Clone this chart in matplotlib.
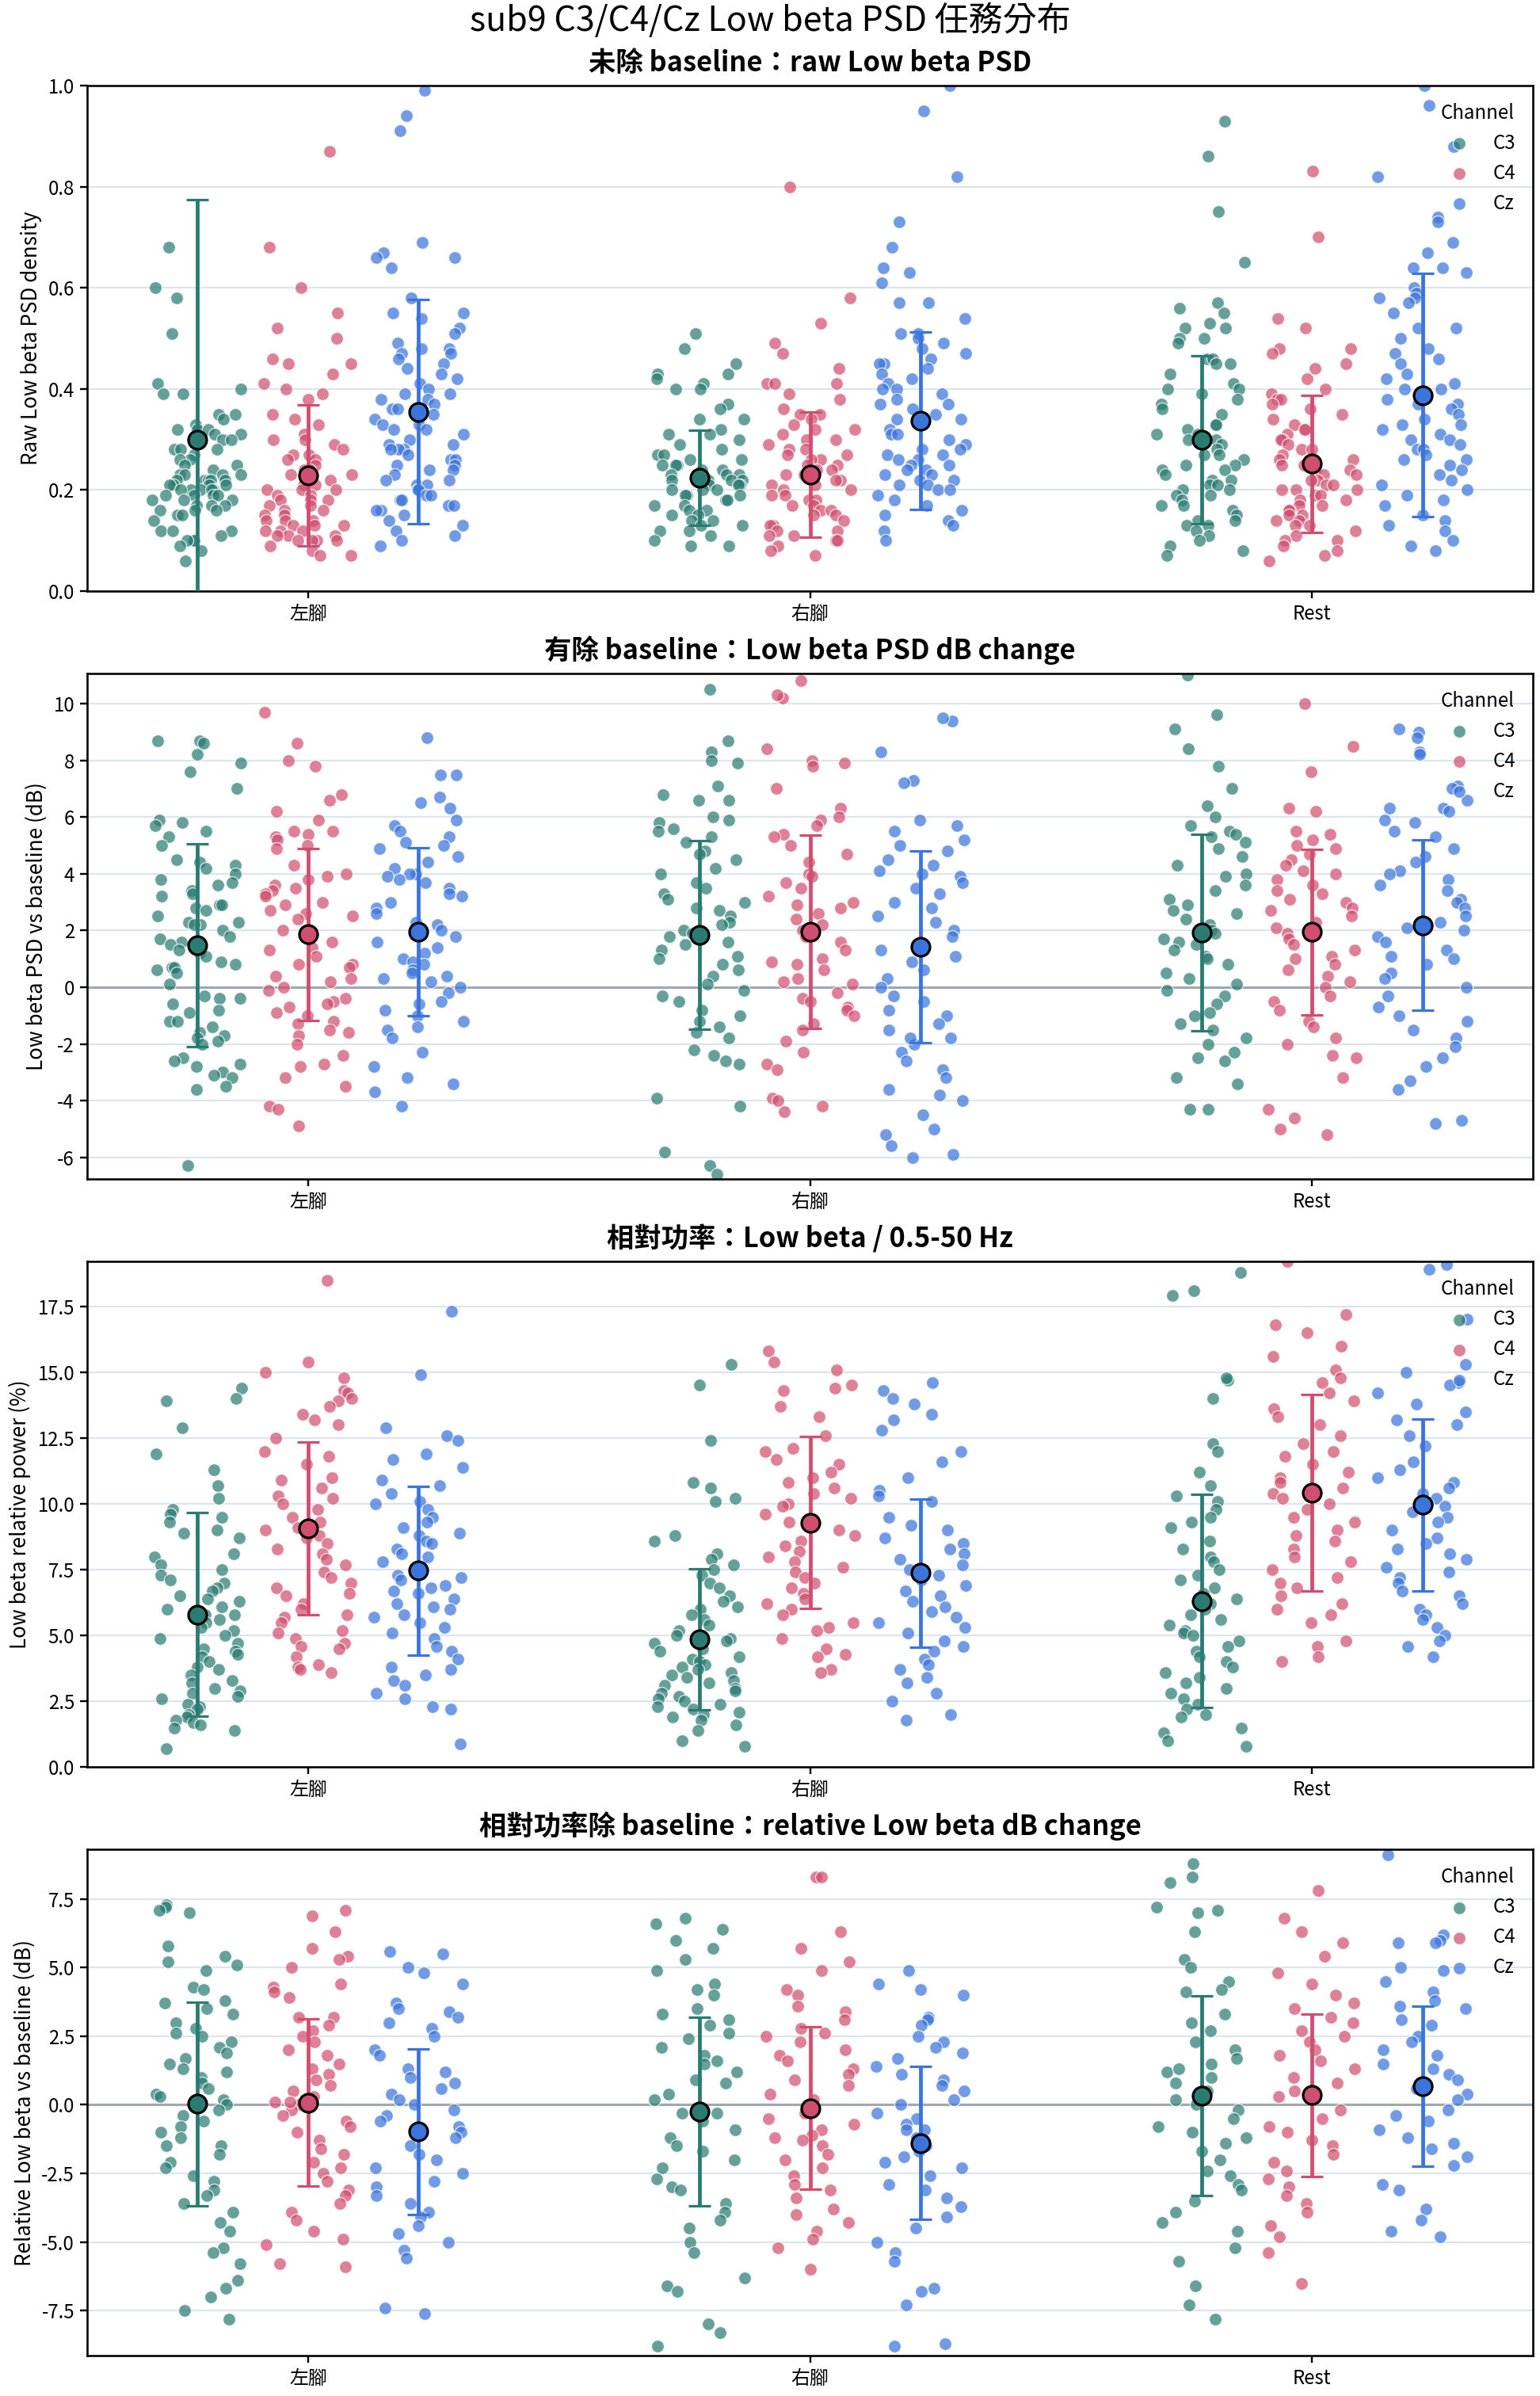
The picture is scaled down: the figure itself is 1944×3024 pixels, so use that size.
import numpy as np
import matplotlib
matplotlib.use("Agg")
import matplotlib.pyplot as plt

plt.rcParams['font.family'] = ['Noto Sans CJK TC', 'DejaVu Sans']
plt.rcParams['axes.unicode_minus'] = False

conditions = ['左腳', '右腳', 'Rest']
channels = ['C3', 'C4', 'Cz']
colors = {'C3': '#2a7b72', 'C4': '#d04f70', 'Cz': '#3b75db'}

# --- panel 1: raw PSD, values x0.01 ---
raw_l_c3 = [68,60,58,51,41,40,39,39,35,35,34,33,32,32,32,31,31,30,30,28,28,28,27,26,26,25,25,24,23,23,23,23,22,22,22,22,22,21,21,21,21,20,20,20,20,20,19,19,19,19,18,18,18,17,17,17,16,16,16,15,15,14,12,12,12,11,10,10,10,9,8,6]
raw_l_c4 = [87,68,60,55,52,50,46,45,45,43,41,40,39,38,35,34,33,31,30,30,29,28,27,27,26,26,25,24,24,23,23,22,21,21,20,20,20,19,19,18,18,18,17,17,16,16,15,15,14,14,14,13,13,13,12,12,12,11,11,11,10,10,10,10,9,8,7,7]
raw_l_cz = [99,94,91,69,67,66,66,64,58,55,55,54,52,51,49,48,48,47,47,46,45,44,43,42,41,40,39,39,38,38,37,36,36,35,34,33,33,32,32,31,30,29,29,28,28,28,27,26,26,25,25,24,24,23,22,22,21,21,20,20,19,19,18,18,17,17,16,16,15,14,13,12,11,10,9]
raw_r_c3 = [51,48,45,43,43,42,41,40,40,37,36,34,34,32,31,31,30,29,28,27,27,26,26,25,25,25,24,24,23,23,23,22,22,22,22,21,21,21,20,20,20,19,19,19,18,18,17,17,16,16,15,15,14,14,13,13,12,12,11,10,9,9]
raw_r_c4 = [80,58,53,49,47,44,41,41,41,39,38,36,35,35,34,33,32,32,31,30,30,29,28,28,27,27,26,26,25,25,24,24,23,23,22,22,21,21,20,20,19,19,18,18,17,17,16,16,15,15,14,13,13,12,12,11,11,10,10,9,8,7]
raw_r_cz = [100,95,82,73,68,64,63,61,57,57,54,51,51,50,49,48,47,46,45,45,44,43,42,41,40,40,39,38,37,37,36,35,34,34,33,32,31,31,30,29,28,28,27,27,26,26,25,25,24,24,23,23,22,22,21,21,20,20,19,18,17,16,15,14,13,12,10]
raw_s_c3 = [93,86,75,65,57,56,55,53,52,52,50,50,49,46,46,45,45,43,41,40,40,39,38,37,36,35,33,33,32,31,31,30,30,29,28,27,27,26,25,25,24,24,23,22,22,21,21,20,20,19,19,18,17,17,16,15,14,14,13,13,12,11,10,9,8,7]
raw_s_c4 = [83,70,54,52,48,48,47,45,44,42,40,39,38,38,37,36,35,34,33,32,32,31,30,30,29,28,28,27,26,26,25,25,24,24,23,23,22,22,21,21,20,20,20,19,19,18,18,17,17,16,16,15,15,14,14,13,13,12,11,10,10,9,8,7,6]
raw_s_cz = [100,96,88,82,74,73,69,67,64,64,63,60,59,58,58,57,55,52,52,50,48,47,46,45,43,42,41,40,40,39,38,37,37,36,35,34,33,33,32,31,30,30,29,28,28,27,26,26,25,24,23,22,21,20,19,18,17,15,14,13,12,10,9,8]
raw_mean = [[0.299, 0.229, 0.355], [0.225, 0.231, 0.337], [0.299, 0.252, 0.388]]
raw_sd = [[0.475, 0.139, 0.222], [0.094, 0.124, 0.175], [0.166, 0.136, 0.241]]

# --- panel 2: PSD dB change, values x0.1 ---
db_l_c3 = [87,86,87,82,79,76,70,59,58,57,55,53,50,45,44,43,42,40,38,37,36,34,33,32,29,29,28,27,25,23,23,22,22,20,18,17,16,15,13,12,11,9,8,7,7,6,5,1,-3,-4,-4,-6,-8,-9,-12,-12,-14,-16,-17,-18,-19,-20,-25,-26,-27,-28,-30,-31,-32,-35,-36,-63]
db_l_c4 = [97,86,80,78,68,66,62,59,55,55,54,53,52,50,49,43,40,39,38,36,35,34,33,32,30,29,27,26,25,24,20,20,16,14,13,11,8,8,7,4,3,2,0,-1,-4,-5,-6,-7,-9,-10,-12,-13,-15,-16,-17,-20,-24,-27,-28,-32,-35,-42,-43,-49]
db_l_cz = [88,75,75,67,65,63,59,57,55,53,51,50,49,46,44,42,40,40,39,38,37,35,33,32,30,28,26,23,22,20,18,16,14,12,10,9,8,6,5,4,3,2,0,-2,-5,-6,-8,-10,-12,-14,-15,-18,-23,-28,-32,-34,-37,-42]
db_r_c3 = [105,87,83,80,79,71,68,66,66,60,59,58,56,55,53,51,48,47,45,42,40,37,35,33,31,30,28,27,25,23,22,20,19,18,16,15,13,11,10,8,6,4,1,-1,-3,-5,-8,-10,-12,-14,-16,-18,-22,-24,-26,-27,-39,-42,-58,-63,-66]
db_r_c4 = [108,102,103,84,80,79,78,70,63,60,59,57,54,53,50,47,44,40,39,37,35,32,30,29,28,26,24,22,20,18,16,13,10,9,8,6,3,2,1,-2,-4,-5,-7,-8,-10,-13,-15,-19,-23,-27,-29,-39,-40,-42,-44]
db_r_cz = [94,95,83,73,72,59,57,55,52,50,48,45,43,41,40,39,37,35,33,30,28,25,23,20,18,15,13,11,9,6,3,0,-3,-5,-8,-10,-13,-15,-18,-20,-23,-26,-29,-32,-36,-38,-40,-45,-50,-52,-56,-59,-60,-18]
db_s_c3 = [110,96,91,84,78,70,64,60,57,55,54,53,51,49,46,43,40,39,36,34,31,29,27,26,24,22,20,19,17,16,15,13,11,10,8,5,3,1,-1,-3,-6,-9,-10,-13,-15,-18,-20,-23,-25,-26,-32,-34,-43,-43]
db_s_c4 = [100,85,76,63,62,55,54,52,50,49,47,45,43,41,40,38,36,34,33,31,30,28,27,25,23,21,20,19,17,15,13,11,10,8,6,4,2,0,-3,-5,-8,-12,-14,-18,-20,-24,-25,-32,-43,-46,-50,-52]
db_s_cz = [91,90,88,83,82,71,70,66,63,63,62,59,58,55,53,49,46,44,41,40,38,36,34,31,30,28,25,23,21,20,18,16,13,11,10,8,5,3,0,-3,-7,-10,-12,-15,-18,-21,-25,-28,-36,-33,-47,-48]
db_mean = [[1.48, 1.86, 1.95], [1.85, 1.95, 1.42], [1.93, 1.95, 2.19]]
db_sd = [[3.57, 3.03, 2.96], [3.33, 3.41, 3.38], [3.46, 2.92, 3.00]]

# --- panel 3: relative power %, values x0.1 ---
pct_l_c3 = [144,140,139,129,119,113,107,102,98,96,95,93,90,89,87,81,80,77,75,73,71,70,68,67,65,64,63,61,60,58,58,56,55,53,52,50,49,47,45,44,43,42,40,38,37,35,33,32,30,29,28,27,26,24,23,22,20,19,18,17,16,15,14,7]
pct_l_c4 = [185,154,150,148,143,142,140,139,137,134,132,130,125,120,118,115,110,109,106,103,102,100,98,95,93,91,90,88,87,85,83,81,79,77,74,72,70,68,66,65,62,60,58,57,55,52,51,49,47,46,45,42,39,38,37,36]
pct_l_cz = [173,149,129,126,124,119,117,114,109,107,104,101,100,98,95,93,91,89,88,86,85,83,81,80,78,76,73,72,71,69,68,67,66,64,62,61,60,58,57,55,53,51,49,46,44,41,38,37,35,33,31,28,26,23,22,9]
pct_r_c3 = [153,145,124,108,106,102,101,88,86,81,79,77,75,73,70,68,65,63,61,60,58,56,54,52,50,49,48,47,45,44,42,41,40,39,38,37,36,35,34,33,32,31,30,29,28,27,26,25,24,23,22,21,20,19,18,16,14,10,8]
pct_r_c4 = [158,154,151,145,144,143,137,133,126,121,120,117,115,112,110,108,106,104,102,100,99,96,93,90,88,86,84,82,80,78,76,74,72,70,68,66,64,62,60,58,55,53,52,49,45,43,42,37,36]
pct_r_cz = [146,143,140,138,134,132,128,120,116,110,105,103,101,95,92,90,87,85,83,81,79,77,75,73,71,69,67,65,63,61,59,57,55,53,51,48,46,44,41,39,37,34,32,28,25,20,18]
pct_s_c3 = [188,181,179,147,148,140,123,120,112,107,103,101,98,95,93,91,86,83,80,78,75,73,71,68,66,64,62,60,58,56,54,52,51,50,48,46,44,42,40,38,36,34,32,30,28,26,24,22,20,19,15,13,10,8]
pct_s_c4 = [192,172,168,165,160,156,151,148,146,142,139,136,133,130,126,123,120,118,115,112,110,108,106,104,102,100,98,95,93,90,88,86,83,80,78,75,72,70,68,65,62,60,58,55,48,46,42,40]
pct_s_cz = [191,189,170,153,150,146,145,142,138,135,132,130,126,122,116,113,110,108,106,104,102,100,99,97,95,93,90,87,85,83,81,79,76,74,72,70,67,65,62,60,58,56,53,50,48,46,42]
pct_mean = [[5.80, 9.08, 7.46], [4.85, 9.29, 7.37], [6.31, 10.42, 9.96]]
pct_sd = [[3.87, 3.28, 3.21], [2.67, 3.26, 2.80], [4.05, 3.72, 3.26]]

# --- panel 4: relative dB change, values x0.1 ---
rdb_l_c3 = [73,72,71,70,58,54,52,51,49,43,42,38,37,35,33,30,28,26,25,23,21,19,17,15,13,12,10,8,6,4,2,0,-2,-4,-6,-8,-10,-12,-15,-18,-21,-23,-26,-28,-31,-33,-36,-39,-43,-46,-52,-54,-58,-64,-67,-70,-75,-78,3,-15]
rdb_l_c4 = [71,69,63,57,54,53,50,44,43,41,39,32,32,29,27,25,23,20,18,15,13,11,9,7,5,3,1,0,-2,-4,-6,-8,-10,-13,-16,-18,-21,-23,-25,-28,-31,-33,-36,-39,-42,-46,-49,-51,-58,-59,1]
rdb_l_cz = [56,55,50,48,44,37,35,34,32,30,28,25,20,18,13,12,10,8,6,4,2,0,-2,-4,-6,-8,-10,-12,-15,-18,-20,-23,-25,-28,-30,-33,-36,-39,-41,-44,-47,-50,-53,-56,-74,-76]
rdb_r_c3 = [68,66,64,60,57,53,49,44,42,40,35,33,31,29,26,24,21,18,16,15,12,9,8,4,2,-3,-3,-6,-9,-12,-15,-17,-20,-23,-27,-30,-31,-36,-39,-42,-45,-50,-54,-63,-66,-68,-80,-83,-88]
rdb_r_c4 = [83,83,63,57,52,49,42,40,36,34,31,28,26,25,23,20,18,16,13,11,9,7,4,2,-3,-5,-7,-9,-11,-13,-15,-18,-20,-23,-26,-29,-31,-34,-38,-40,-43,-46,-49,-52,-60,-12]
rdb_r_cz = [49,44,42,40,32,31,29,25,23,21,19,17,14,11,9,7,5,2,0,-3,-5,-7,-9,-12,-15,-17,-19,-21,-23,-26,-29,-31,-34,-37,-41,-45,-50,-54,-57,-67,-68,-73,-87,-88,-9]
rdb_s_c3 = [88,83,81,72,71,70,63,53,50,45,42,41,33,30,27,23,20,17,15,12,10,8,5,2,0,-2,-5,-8,-10,-14,-17,-20,-24,-26,-29,-31,-35,-39,-43,-46,-52,-57,-66,-73,-78,13,-12]
rdb_s_c4 = [78,68,63,59,54,48,44,40,37,35,32,30,27,25,23,20,18,16,13,10,8,5,3,-2,-5,-8,-10,-13,-15,-18,-21,-24,-27,-30,-33,-36,-39,-44,-48,-54,-65]
rdb_s_cz = [91,62,60,59,59,50,49,45,41,38,36,35,31,29,25,23,20,18,15,13,11,9,6,4,2,-2,-4,-6,-9,-12,-14,-16,-19,-22,-29,-31,-38,-42,-46,-48]
rdb_mean = [[0.03, 0.08, -0.98], [-0.24, -0.12, -1.39], [0.33, 0.35, 0.68]]
rdb_sd = [[3.72, 3.05, 3.02], [3.44, 2.95, 2.79], [3.64, 2.97, 2.92]]

panels = [
    dict(title='未除 baseline：raw Low beta PSD', ylabel='Raw Low beta PSD density', scale=0.01,
         pts=[[raw_l_c3, raw_l_c4, raw_l_cz], [raw_r_c3, raw_r_c4, raw_r_cz], [raw_s_c3, raw_s_c4, raw_s_cz]],
         mean=raw_mean, sd=raw_sd, ylim=(0, 1.0), yticks=np.arange(0, 1.01, 0.2), fmt='{:.1f}', zero=False),
    dict(title='有除 baseline：Low beta PSD dB change', ylabel='Low beta PSD vs baseline (dB)', scale=0.1,
         pts=[[db_l_c3, db_l_c4, db_l_cz], [db_r_c3, db_r_c4, db_r_cz], [db_s_c3, db_s_c4, db_s_cz]],
         mean=db_mean, sd=db_sd, ylim=(-6.77, 11.06), yticks=np.arange(-6, 11, 2), fmt='{:.0f}', zero=True),
    dict(title='相對功率：Low beta / 0.5-50 Hz', ylabel='Low beta relative power (%)', scale=0.1,
         pts=[[pct_l_c3, pct_l_c4, pct_l_cz], [pct_r_c3, pct_r_c4, pct_r_cz], [pct_s_c3, pct_s_c4, pct_s_cz]],
         mean=pct_mean, sd=pct_sd, ylim=(0, 19.2), yticks=np.arange(0, 17.6, 2.5), fmt='{:.1f}', zero=False),
    dict(title='相對功率除 baseline：relative Low beta dB change', ylabel='Relative Low beta vs baseline (dB)', scale=0.1,
         pts=[[rdb_l_c3, rdb_l_c4, rdb_l_cz], [rdb_r_c3, rdb_r_c4, rdb_r_cz], [rdb_s_c3, rdb_s_c4, rdb_s_cz]],
         mean=rdb_mean, sd=rdb_sd, ylim=(-9.13, 9.30), yticks=np.arange(-7.5, 7.6, 2.5), fmt='{:.1f}', zero=True),
]

offsets = [-0.22, 0.0, 0.22]
jit_w = 0.09


def spread(n, k):
    # deterministic hash-style offsets in [-1, 1], only used to spread dots sideways
    i = np.arange(n) + 1.0
    h = np.sin(i * 78.233 + k * 12.9898) * 43758.5453
    return (h - np.floor(h)) * 2 - 1


fig, axes = plt.subplots(4, 1, figsize=(13.5, 21), dpi=144)
fig.subplots_adjust(left=0.0566, right=0.9954, bottom=0.017, top=0.9643, hspace=0.163)

for pi, (ax, p) in enumerate(zip(axes, panels)):
    for ci in range(3):
        for hi, ch in enumerate(channels):
            vals = np.array(p['pts'][ci][hi]) * p['scale']
            jit = spread(len(vals), pi * 9 + ci * 3 + hi) * jit_w
            ax.scatter(ci + offsets[hi] + jit, vals, s=64, color=colors[ch], alpha=0.72,
                       edgecolors='white', linewidths=0.7, zorder=2,
                       label=ch if ci == 0 else None)
            ax.errorbar(ci + offsets[hi], p['mean'][ci][hi], yerr=p['sd'][ci][hi], fmt='o',
                        color=colors[ch], mec='black', mew=1.6, ms=11.5, elinewidth=2.4,
                        capsize=7, capthick=2.2, zorder=4)
    if p['zero']:
        ax.axhline(0, color='#a0a9b1', lw=1.6, zorder=1)
    ax.set_xlim(-0.44, 2.44)
    ax.set_ylim(*p['ylim'])
    ax.set_xticks(range(3))
    ax.set_xticklabels(conditions, fontsize=12)
    ax.set_yticks(p['yticks'])
    ax.set_yticklabels([p['fmt'].format(t) for t in p['yticks']], fontsize=12)
    ax.yaxis.grid(True, color='#dde4ec', lw=1.1)
    ax.set_axisbelow(True)
    ax.tick_params(length=4.5, width=1.2)
    for s in ax.spines.values():
        s.set_linewidth(1.3)
        s.set_color('black')
    ax.set_ylabel(p['ylabel'], fontsize=13)
    ax.set_title(p['title'], fontsize=17.2, fontweight='bold', pad=9)
    ax.legend(title='Channel', loc='upper right', frameon=False, fontsize=12, title_fontsize=12)

fig.suptitle('sub9 C3/C4/Cz Low beta PSD 任務分布', fontsize=21.5, y=0.991, va='center')

fig.savefig('out.png', dpi=144)
